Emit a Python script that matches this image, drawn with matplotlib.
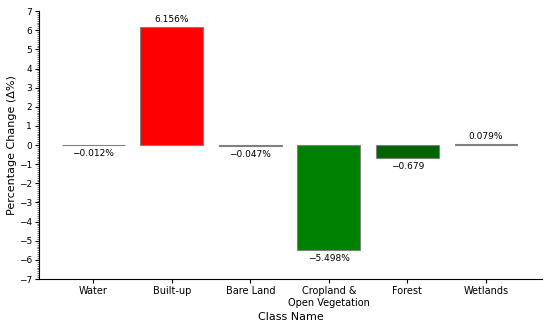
import numpy as np
import matplotlib.pyplot as plt
from matplotlib.ticker import MultipleLocator

# Land cover change per class
classes = ['Water', 'Built-up', 'Bare Land', 'Cropland &\nOpen Vegetation', 'Forest', 'Wetlands']
change = [-0.012, 6.156, -0.047, -5.498, -0.679, 0.079]
labels = ['\u22120.012%', '6.156%', '\u22120.047%', '\u22125.498%', '\u22120.679', '0.079%']
colors = ['#1f4fd0', '#ff0000', '#a0662d', '#008000', '#006400', '#808080']

fig = plt.figure(figsize=(5.5, 3.26), dpi=100)
ax = fig.add_axes([0.071, 0.144, 0.914, 0.822])

x = np.arange(len(classes))
bars = ax.bar(x, change, width=0.8, color=colors, edgecolor='grey', linewidth=0.8)

for b, v, t in zip(bars, change, labels):
    if v >= 0:
        ax.annotate(t, (b.get_x() + b.get_width() / 2, v), xytext=(0, 2),
                    textcoords='offset points', ha='center', va='bottom', fontsize=6.5)
    else:
        ax.annotate(t, (b.get_x() + b.get_width() / 2, v), xytext=(0, -3),
                    textcoords='offset points', ha='center', va='top', fontsize=6.5)

ax.set_xticks(x)
ax.set_xticklabels(classes, fontsize=7)
ax.set_xlim(-0.69, 5.71)
ax.set_ylim(-7, 7)
ax.yaxis.set_major_locator(MultipleLocator(1))
ax.yaxis.set_minor_locator(MultipleLocator(0.1))
ax.tick_params(axis='both', which='major', length=3, pad=2)
ax.tick_params(axis='y', labelsize=6.5)
ax.tick_params(axis='y', which='minor', length=1.5, color='#555555')
ax.set_xlabel('Class Name', fontsize=8, labelpad=3)
ax.set_ylabel('Percentage Change (\u0394%)', fontsize=8, labelpad=1)
ax.spines['top'].set_visible(False)
ax.spines['right'].set_visible(False)

plt.savefig('out.png', dpi=100)
